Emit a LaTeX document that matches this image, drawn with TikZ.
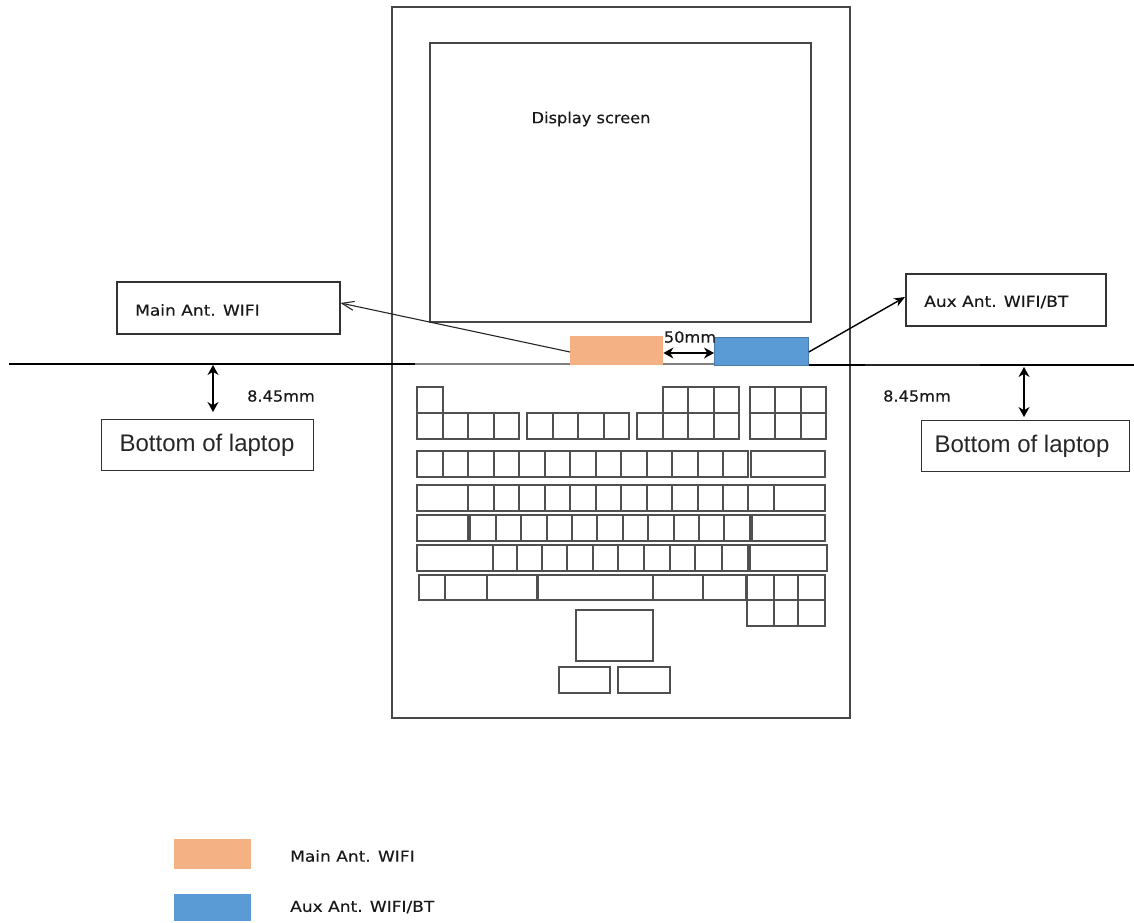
\documentclass[tikz,border=0pt]{standalone}
\usepackage{fontspec}
\setmainfont{DejaVu Sans}
\newfontfamily\arialfont{Liberation Sans}
\newfontfamily\lblfont[FakeStretch=1.06,FakeBold=0.25]{DejaVu Sans}
\newfontfamily\antfont[FakeStretch=1.12,FakeBold=0.25]{DejaVu Sans}
\usetikzlibrary{arrows.meta}
\definecolor{mainant}{HTML}{F4B183}
\definecolor{auxant}{HTML}{5B9BD5}
\definecolor{keyline}{HTML}{505050}
\tikzset{
  x=1pt,y=-1pt,
  frame/.style={draw=black!72,line width=2pt,inner sep=0pt},
  keyrow/.style={draw=keyline,line width=1.4pt},
  lbl/.style={font=\lblfont\fontsize{15.3}{17}\selectfont,text=black!90,inner sep=0pt},
  antlbl/.style={font=\antfont\fontsize{15.2}{17}\selectfont,text=black!90,inner sep=0pt},
  boxed/.style={draw=black!80,line width=1.5pt,fill=white,inner sep=0pt},
  big/.style={font=\arialfont\fontsize{24}{28}\selectfont,text=black!85,inner sep=0pt},
  patch/.style={inner sep=0pt,draw=none},
  dimarrow/.style={{Stealth[length=10pt,width=11pt]}-{Stealth[length=10pt,width=11pt]},line width=1.2pt,black},
  leader/.style={-{Straight Barb[length=12pt,width=9pt]},line width=1.1pt,draw=black!85},
  leaderb/.style={-{Stealth[length=11pt,width=9pt]},line width=1.4pt,black},
}
\newcommand{\keyrowat}[3]{%
  \foreach \a/\b in {#3} {\draw[keyrow] (\a,#1) rectangle (\b,#2);}%
}
\begin{document}
\begin{tikzpicture}
\useasboundingbox (0,0) rectangle (1134,922);
% laptop
\node[frame,anchor=north west,minimum width=458pt,minimum height=711pt] (laptop) at (391.4,6.4) {};
\node[frame,anchor=north west,minimum width=381pt,minimum height=279pt] (screen) at (429.4,42.4) {};
\node[lbl] (screenlabel) at (591,119) {Display screen};
% baseline
\coordinate (la) at (9,364); \coordinate (lb) at (415,364);
\coordinate (rb) at (865,365); \coordinate (rc) at (980,365); \coordinate (rd) at (1134,365);
\draw[line width=2.6pt,black] (la) -- (lb);
\draw[line width=1.4pt,black!50] (lb) -- (570,364);
\draw[line width=1.4pt,black!50] (663,364) -- (714,364);
\draw[line width=2.8pt,black] (808,365) -- (rb);
\draw[line width=1.4pt,black!85] (rb) -- (rc);
\draw[line width=2.6pt,black] (rc) -- (rd);
% antennas
\node[patch,fill=mainant,anchor=north west,minimum width=93pt,minimum height=29pt] (mainpatch) at (570,336) {};
\node[patch,fill=auxant,draw=auxant!80!black,line width=.8pt,anchor=north west,minimum width=94pt,minimum height=28pt] (auxpatch) at (714,337) {};
\draw[dimarrow] (mainpatch.east|-0,353) -- (auxpatch.west|-0,353);
\node[lbl] (gap) at (690,337) {50mm};
% callouts
\node[boxed,anchor=north west,minimum width=223pt,minimum height=52pt] (mainbox) at (116,281) {};
\node[antlbl,anchor=west] (mainlabel) at (135,310) {Main Ant. WIFI};
\node[boxed,anchor=north west,minimum width=200pt,minimum height=52pt] (auxbox) at (905,273) {};
\node[antlbl,anchor=west] (auxlabel) at (924,302) {Aux Ant. WIFI/BT};
\draw[leader] (mainpatch.west|-0,352) -- (mainbox.east|-0,303);
\draw[leaderb] (auxpatch.east|-0,352) -- (auxbox.west|-0,297);
% heights
\coordinate (lt) at (213,365);
\node[boxed,anchor=north west,minimum width=212pt,minimum height=51pt] (botl) at (100.6,418.6) {};
\node[big] (botltext) at (207,445) {Bottom of laptop};
\draw[dimarrow] (lt) -- (213,412);
\node[lbl] (dl) at (281,396) {8.45mm};
\coordinate (rt) at (1024,367);
\node[boxed,anchor=north west,minimum width=208pt,minimum height=51pt] (botr) at (920.6,419.6) {};
\node[big] (botrtext) at (1022,446) {Bottom of laptop};
\draw[dimarrow] (rt) -- (1024,417);
\node[lbl] (dr) at (917,396) {8.45mm};
% keyboard
\keyrowat{387}{413}{417/443,663/688,688/714,714/739,750/775,775/801,801/826}
\keyrowat{413}{439}{417/443,443/468,468/494,494/519,527/553,553/578,578/604,604/629,637/663,663/688,688/714,714/739,750/775,775/801,801/826}
\keyrowat{451}{477}{417/443,443/468,468/494,494/519,519/545,545/570,570/596,596/621,621/647,647/672,672/698,698/723,723/748,751/825}
\keyrowat{485}{511}{417/468,468/494,494/519,519/545,545/570,570/596,596/621,621/647,647/672,672/698,698/723,723/748,748/774,774/825}
\keyrowat{515}{541}{417/468,470/496,496/521,521/547,547/572,572/597,597/623,623/648,648/674,674/699,699/724,724/750,752/825}
\keyrowat{545}{571}{417/493,493/517,517/542,542/567,567/593,593/618,618/644,644/670,670/695,695/722,722/748,750/827}
\keyrowat{575}{600}{419/445,445/487,487/537,538/653,653/703,703/746,747/774,774/798,798/825}
\keyrowat{600}{626}{747/774,774/798,798/825}
\draw[keyrow] (576,610) rectangle (653,661);
\draw[keyrow] (559,667) rectangle (610,693);
\draw[keyrow] (618,667) rectangle (670,693);
% legend
\node[patch,fill=mainant,anchor=north west,minimum width=77pt,minimum height=30pt] (legmain) at (174,839) {};
\node[antlbl,anchor=west] (legmaintext) at (290,856) {Main Ant. WIFI};
\node[patch,fill=auxant,anchor=north west,minimum width=77pt,minimum height=27pt] (legaux) at (174,894) {};
\node[antlbl,anchor=west] (legauxtext) at (290,907) {Aux Ant. WIFI/BT};
\end{tikzpicture}
\end{document}
